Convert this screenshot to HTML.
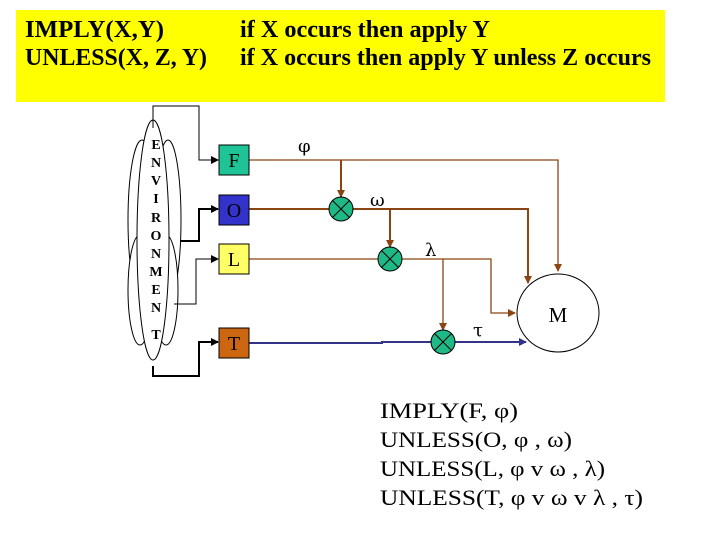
<!DOCTYPE html>
<html><head><style>
body{margin:0;width:720px;height:540px;background:#fff;overflow:hidden;font-family:"Liberation Serif",serif}
</style></head><body>
<svg width="720" height="540" xmlns="http://www.w3.org/2000/svg" style="position:absolute;left:0;top:0">
<defs>
<marker id="ab" markerWidth="8" markerHeight="8" refX="7" refY="4" orient="auto" markerUnits="userSpaceOnUse"><path d="M0,0 L8,4 L0,8z" fill="#000"/></marker>
<marker id="ar" markerWidth="8" markerHeight="8" refX="7" refY="4" orient="auto" markerUnits="userSpaceOnUse"><path d="M0,0 L8,4 L0,8z" fill="#8b4513"/></marker>
<marker id="an" markerWidth="8" markerHeight="8" refX="7" refY="4" orient="auto" markerUnits="userSpaceOnUse"><path d="M0,0 L8,4 L0,8z" fill="#333388"/></marker>
</defs>
<rect x="16" y="10" width="649" height="92" fill="#ffff00"/>
<g font-weight="bold" font-size="24" font-family="Liberation Serif,serif">
<text x="25" y="37" textLength="139" lengthAdjust="spacingAndGlyphs">IMPLY(X,Y)</text>
<text x="25" y="65" textLength="182" lengthAdjust="spacingAndGlyphs">UNLESS(X, Z, Y)</text>
<text x="240" y="37" textLength="250" lengthAdjust="spacingAndGlyphs">if X occurs then apply Y</text>
<text x="240" y="65" textLength="411" lengthAdjust="spacingAndGlyphs">if X occurs then apply Y unless Z occurs</text>
</g>
<!-- cloud -->
<g fill="#fff" stroke="#000" stroke-width="1">
<ellipse cx="142" cy="220" rx="14" ry="80"/>
<ellipse cx="168" cy="220" rx="13" ry="80"/>
<ellipse cx="140" cy="290" rx="12" ry="55"/>
<ellipse cx="166" cy="290" rx="12" ry="55"/>
<ellipse cx="153" cy="240" rx="16" ry="120"/>
</g>
<g fill="none" stroke="#000" stroke-width="2">
<polyline points="153,128 153,106 199,106 199,160 218,160" stroke-width="1" marker-end="url(#ab)"/>
<polyline points="180,241 199,241 199,209 218,209" marker-end="url(#ab)"/>
<polyline points="174,304 196,304 196,259 218,259" stroke-width="1" marker-end="url(#ab)"/>
<polyline points="153,366 153,376 199,376 199,342 218,342" marker-end="url(#ab)"/>
</g>
<g font-weight="bold" font-size="14" text-anchor="middle">
<text x="156" y="149">E</text><text x="156" y="167">N</text><text x="156" y="185">V</text><text x="156" y="203">I</text><text x="156" y="222">R</text><text x="156" y="240">O</text><text x="156" y="258">N</text><text x="156" y="276">M</text><text x="156" y="294">E</text><text x="156" y="312">N</text><text x="156" y="339">T</text>
</g>
<g fill="none" stroke="#8b4513">
<polyline points="249,160 558,160 558,271" stroke-width="1.3" marker-end="url(#ar)"/>
<line x1="341" y1="160" x2="341" y2="197" stroke-width="2" marker-end="url(#ar)"/>
<polyline points="249,209 528,209 528,283" stroke-width="2" marker-end="url(#ar)"/>
<line x1="390" y1="209" x2="390" y2="247" stroke-width="2" marker-end="url(#ar)"/>
<polyline points="249,259 491,259 491,313 515,313" stroke-width="1.3" marker-end="url(#ar)"/>
<line x1="443" y1="259" x2="443" y2="330" stroke-width="1.3" marker-end="url(#ar)"/>
</g>
<polyline points="249,343 382,343 382,342 526,342" fill="none" stroke="#333388" stroke-width="2" marker-end="url(#an)"/>
<rect x="219" y="145" width="30" height="30" fill="#1fc496" stroke="#000"/>
<rect x="219" y="195" width="30" height="30" fill="#3333cc" stroke="#000"/>
<rect x="219" y="244" width="30" height="30" fill="#ffff66" stroke="#000"/>
<rect x="219" y="328" width="30" height="30" fill="#cc6611" stroke="#000"/>
<g font-size="20" text-anchor="middle">
<text x="234" y="167">F</text><text x="234" y="217">O</text><text x="234" y="266">L</text><text x="234" y="350">T</text>
</g>
<g stroke="#000" stroke-width="1">
<g transform="translate(341,209)"><circle r="12" fill="#1fb887"/><path d="M-8.5,-8.5L8.5,8.5M-8.5,8.5L8.5,-8.5"/></g>
<g transform="translate(390,259)"><circle r="12" fill="#1fb887"/><path d="M-8.5,-8.5L8.5,8.5M-8.5,8.5L8.5,-8.5"/></g>
<g transform="translate(443,342)"><circle r="12" fill="#1fb887"/><path d="M-8.5,-8.5L8.5,8.5M-8.5,8.5L8.5,-8.5"/></g>
</g>
<ellipse cx="558" cy="313" rx="41" ry="39" fill="#fff" stroke="#000"/>
<text x="558" y="322" font-size="21" text-anchor="middle">M</text>
<g font-size="18" font-family="DejaVu Serif,serif">
<text x="298" y="152">φ</text><text x="370" y="206">ω</text><text x="425" y="256">λ</text><text x="473" y="336">τ</text>
</g>
<g font-size="22">
<text x="380" y="418" textLength="138" lengthAdjust="spacingAndGlyphs">IMPLY(F, φ)</text>
<text x="380" y="447" textLength="192" lengthAdjust="spacingAndGlyphs">UNLESS(O, φ , ω)</text>
<text x="380" y="476" textLength="225" lengthAdjust="spacingAndGlyphs">UNLESS(L, φ v ω , λ)</text>
<text x="380" y="505" textLength="263" lengthAdjust="spacingAndGlyphs">UNLESS(T, φ v ω v λ , τ)</text>
</g>
</svg>
</body></html>
